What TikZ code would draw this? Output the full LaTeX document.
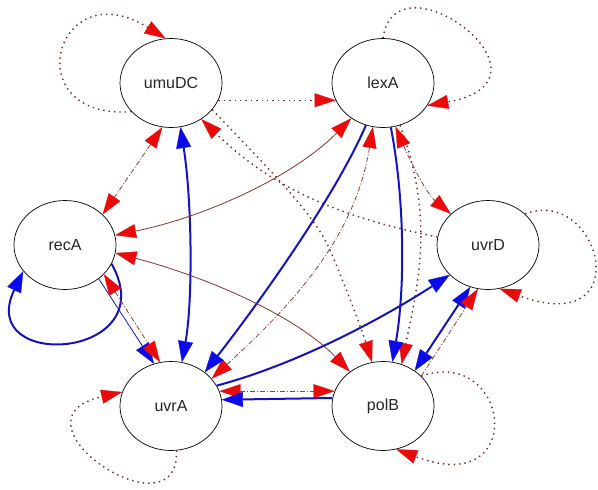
\documentclass[tikz,border=0pt]{standalone}
\usepackage{fontspec}
\setmainfont{Liberation Sans}
\usetikzlibrary{arrows.meta,shapes.geometric}

\definecolor{dotc}{RGB}{120,35,35}
\definecolor{dashc}{RGB}{150,60,55}
\definecolor{linec}{RGB}{140,50,45}
\definecolor{arrred}{RGB}{235,10,10}
\definecolor{arrblue}{RGB}{10,10,235}
\definecolor{lineblue}{RGB}{20,20,190}

\tikzset{
  RT/.tip={Triangle[length=21pt,width=14pt,line width=0.3pt,color=arrred]},
  BT/.tip={Triangle[length=21pt,width=15pt,line width=0.3pt,color=arrblue]},
  gene/.style={ellipse,draw=black,line width=0.7pt,fill=white,
    minimum width=102pt,minimum height=89pt,inner sep=0pt,
    font=\fontsize{16}{19}\selectfont,text=black!85},
  rdot/.style={draw=dotc,line width=1.4pt,dash pattern=on 1.4pt off 4pt},
  rdash/.style={draw=dashc,line width=0.8pt,dash pattern=on 5pt off 2pt on 1pt off 2pt},
  rthin/.style={draw=linec,line width=0.8pt},
  bthick/.style={draw=lineblue,line width=2pt},
  bthin/.style={draw=lineblue,line width=0.8pt},
}

\begin{document}
\begin{tikzpicture}[x=1pt,y=-1pt]
  \fill[white] (0,0) rectangle (598,490);
  \useasboundingbox (0,0) rectangle (598,490);

  % genes
  \node[gene] (umuDC) at (171,83)  {umuDC};
  \node[gene] (lexA)  at (383,83)  {lexA};
  \node[gene] (recA)  at (65,245)  {recA};
  \node[gene] (uvrD)  at (488,245) {uvrD};
  \node[gene] (uvrA)  at (171,406) {uvrA};
  \node[gene] (polB)  at (383,406) {polB};

  % self loops
  \draw[rdot,-RT] (umuDC.216) .. controls (15,120) and (55,-30) .. (umuDC.97);
  \draw[rdot,-RT] (lexA.90) .. controls (395,-50) and (570,80) .. (lexA.-27);
  \draw[rdot,-RT] (uvrD.40) .. controls (600,185) and (640,340) .. (uvrD.-75);
  \draw[rdot,-RT] (polB.38) .. controls (510,345) and (530,500) .. (polB.-73);
  \draw[rdot,-RT] (uvrA.-83) .. controls (180,540) and (0,420) .. (uvrA.164);
  \draw[bthick,-BT] (recA.-22) .. controls (165,360) and (-25,372) .. (recA.212);

  % umuDC
  \draw[rdot,-RT] (umuDC.-20) -- (lexA.200);
  \draw[rdash,RT-RT] (umuDC.-101) -- (recA.39);
  \draw[bthick,BT-BT] (umuDC.-78) .. controls (192,200) and (193,300) .. (uvrA.76);
  \draw[rdot,-RT] (uvrD.171) .. controls (339,217) and (272,188) .. (umuDC.-50);
  \draw[rdot,-RT] (umuDC.-33) .. controls (270,170) and (315,215) .. (330,250)
                  .. controls (345,285) and (362,330) .. (polB.104);

  % lexA
  \draw[rdot,-RT] (lexA.-68) .. controls (435,219) and (418,284) .. (polB.66);
  \draw[bthick,-BT] (lexA.-80) .. controls (405,200) and (405,290) .. (polB.78);
  \draw[rdash,RT-RT] (lexA.-74) .. controls (411,163) and (427,194) .. (uvrD.140);
  \draw[rdash,RT-RT] (lexA.-103) .. controls (355,237) and (294,303) .. (uvrA.34);
  \draw[bthick,-BT] (lexA.-112) .. controls (334,199) and (255,308) .. (uvrA.45);

  % recA
  \draw[rthin,RT-RT] (recA.11) .. controls (205,217) and (293,177) .. (lexA.228);
  \draw[rthin,RT-RT] (recA.-9) .. controls (203,276) and (294,314) .. (polB.134);
  \draw[bthin,-BT] (recA.-45) -- (uvrA.112);
  \draw[rdash,RT-RT] (recA.-37) -- (uvrA.104);

  % uvrA, polB, uvrD
  \draw[bthick,-BT] (uvrA.24) .. controls (298,364) and (383,318) .. (uvrD.218);
  \draw[rdash,RT-RT] (uvrA.17) -- (polB.163);
  \draw[bthick,-BT] (polB.171) -- (uvrA.7);
  \draw[bthick,BT-BT] (polB.48) -- (uvrD.247);
  \draw[rdash,-RT] (polB.38) -- (uvrD.257);
\end{tikzpicture}
\end{document}
